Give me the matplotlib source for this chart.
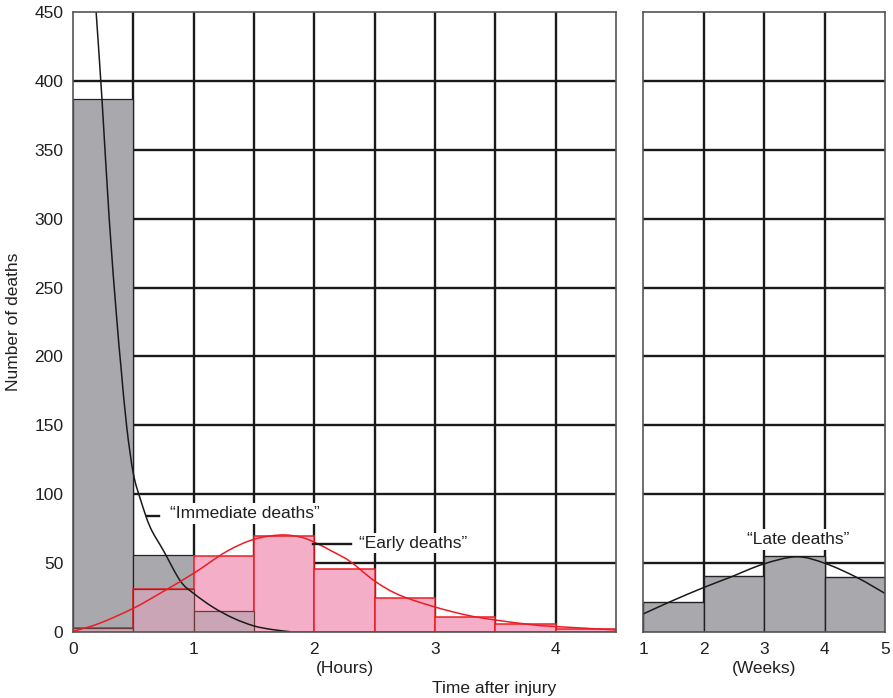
import numpy as np
import matplotlib
matplotlib.use("Agg")
import matplotlib.pyplot as plt
from matplotlib.path import Path
from matplotlib.patches import PathPatch

plt.rcParams['font.family'] = ['Liberation Sans', 'DejaVu Sans']

# half-hour bins (left edges, hours)
hour_bins = [0.0, 0.5, 1.0, 1.5, 2.0, 2.5, 3.0, 3.5, 4.0]
immediate_counts = [387, 56, 15]
early_counts = [3, 31, 55, 70, 46, 25, 11, 6, 2]

# weekly bins (left edges, weeks)
week_bins = [1, 2, 3, 4]
late_counts = [22, 41, 55, 40]

# fitted curves, sampled along the time axis
immediate_curve_x = [0.19, 0.24, 0.30, 0.36, 0.40, 0.445, 0.50, 0.56, 0.64,
                     0.75, 0.89, 1.00, 1.16, 1.33, 1.50, 1.65, 1.80]
immediate_curve_y = [452, 387, 300, 230, 190, 149, 115, 96, 76,
                     59, 37, 28, 18, 10, 4.4, 1.8, 0.2]

early_curve_x = [0.0, 0.22, 0.50, 0.72, 1.00, 1.27, 1.50, 1.72, 1.88, 1.99,
                 2.16, 2.30, 2.50, 2.70, 2.99, 3.26, 3.50, 3.82, 4.01, 4.50]
early_curve_y = [0.5, 6.3, 17.2, 28, 42.6, 58.3, 67.3, 70.4, 69, 65.6,
                 58, 51, 37, 27, 18.4, 12.3, 8.7, 5.1, 3.9, 1.5]

late_curve_x = [1.0, 1.45, 2.01, 2.44, 2.99, 3.54, 4.01, 4.53, 5.0]
late_curve_y = [13, 22, 32.4, 39.7, 49.3, 54.6, 49.8, 39.7, 28]

GRAY = '#a9a8ad'
PINK = '#f5aec7'
MAUVE = '#caa5b5'
RED = '#ed1c24'
INK = '#231f20'
FS = 12.5

W, H = 893, 698
fig = plt.figure(figsize=(W / 100, H / 100), dpi=100)
ax = fig.add_axes([73 / W, 66 / H, 543 / W, 620 / H])
ax2 = fig.add_axes([643 / W, 66 / H, 242 / W, 620 / H])


def style_panel(a, xlim, xticks, xgrid):
    a.set_xlim(*xlim)
    a.set_ylim(0, 450)
    for v in xgrid:
        a.axvline(v, color='#1a1a1a', lw=1.7, zorder=1)
    for h in np.arange(50, 450, 50):
        a.axhline(h, color='#1a1a1a', lw=1.7, zorder=1)
    a.set_xticks(xticks)
    a.set_yticks(np.arange(0, 451, 50))
    a.tick_params(length=0, labelsize=FS, labelcolor=INK, pad=7)
    for s in a.spines.values():
        s.set_color('#555555')
        s.set_linewidth(1.2)
        s.set_zorder(6)


def smooth_curve(a, xs, ys, color):
    # Catmull-Rom through the sampled points, drawn as cubic Bezier segments
    pts = np.column_stack([xs, ys]).astype(float)
    verts = [pts[0]]
    codes = [Path.MOVETO]
    for i in range(len(pts) - 1):
        p0 = pts[i - 1] if i > 0 else pts[i]
        p1, p2 = pts[i], pts[i + 1]
        p3 = pts[i + 2] if i + 2 < len(pts) else p2
        verts += [p1 + (p2 - p0) / 6, p2 - (p3 - p1) / 6, p2]
        codes += [Path.CURVE4] * 3
    a.add_patch(PathPatch(Path(verts, codes), fill=False, edgecolor=color,
                          lw=1.1, zorder=5))


style_panel(ax, (0, 4.5), [0, 1, 2, 3, 4], np.arange(0.5, 4.5, 0.5))
style_panel(ax2, (1, 5), [1, 2, 3, 4, 5], [2, 3, 4])
ax2.set_yticklabels([])

# immediate deaths (gray) and early deaths (pink), overlap shaded mauve
n_imm = len(immediate_counts)
ax.bar(hour_bins[:n_imm], immediate_counts, width=0.5, align='edge',
       color=GRAY, edgecolor='#222222', lw=0.9, zorder=2)
ax.bar(hour_bins, early_counts, width=0.5, align='edge',
       color=PINK, edgecolor=RED, lw=1.1, zorder=3)
overlap = np.minimum(immediate_counts, early_counts[:n_imm])
ax.bar(hour_bins[:n_imm], overlap, width=0.5, align='edge',
       color=MAUVE, edgecolor='#6b3b3b', lw=0.9, zorder=4)

smooth_curve(ax, immediate_curve_x, immediate_curve_y, '#1a1a1a')
smooth_curve(ax, early_curve_x, early_curve_y, RED)

# late deaths
ax2.bar(week_bins, late_counts, width=1, align='edge',
        color=GRAY, edgecolor='#222222', lw=1.0, zorder=2)
smooth_curve(ax2, late_curve_x, late_curve_y, '#1a1a1a')

# curve labels with leader lines
box = dict(facecolor='white', edgecolor='none', pad=2)
ax.plot([0.61, 0.71], [84, 84], color='#1a1a1a', lw=1.7, zorder=5)
ax.text(0.80, 86, '\u201cImmediate deaths\u201d', fontsize=FS, color=INK,
        ha='left', va='center', bbox=box, zorder=7)
ax.plot([1.99, 2.30], [64, 64], color='#1a1a1a', lw=1.7, zorder=5)
ax.text(2.37, 64.5, '\u201cEarly deaths\u201d', fontsize=FS, color=INK,
        ha='left', va='center', bbox=box, zorder=7)
ax2.text(3.57, 67, '\u201cLate deaths\u201d', fontsize=FS, color=INK,
         ha='center', va='center', bbox=box, zorder=7)

fig.text(344.5 / W, 1 - 668 / H, '(Hours)', fontsize=FS, color=INK,
         ha='center', va='center')
fig.text(764 / W, 1 - 668 / H, '(Weeks)', fontsize=FS, color=INK,
         ha='center', va='center')
fig.text(494 / W, 1 - 688 / H, 'Time after injury', fontsize=FS, color=INK,
         ha='center', va='center')
fig.text(14 / W, 1 - 322 / H, 'Number of deaths', fontsize=FS, color=INK,
         ha='center', va='center', rotation=90)

fig.savefig('out.png', dpi=100)
